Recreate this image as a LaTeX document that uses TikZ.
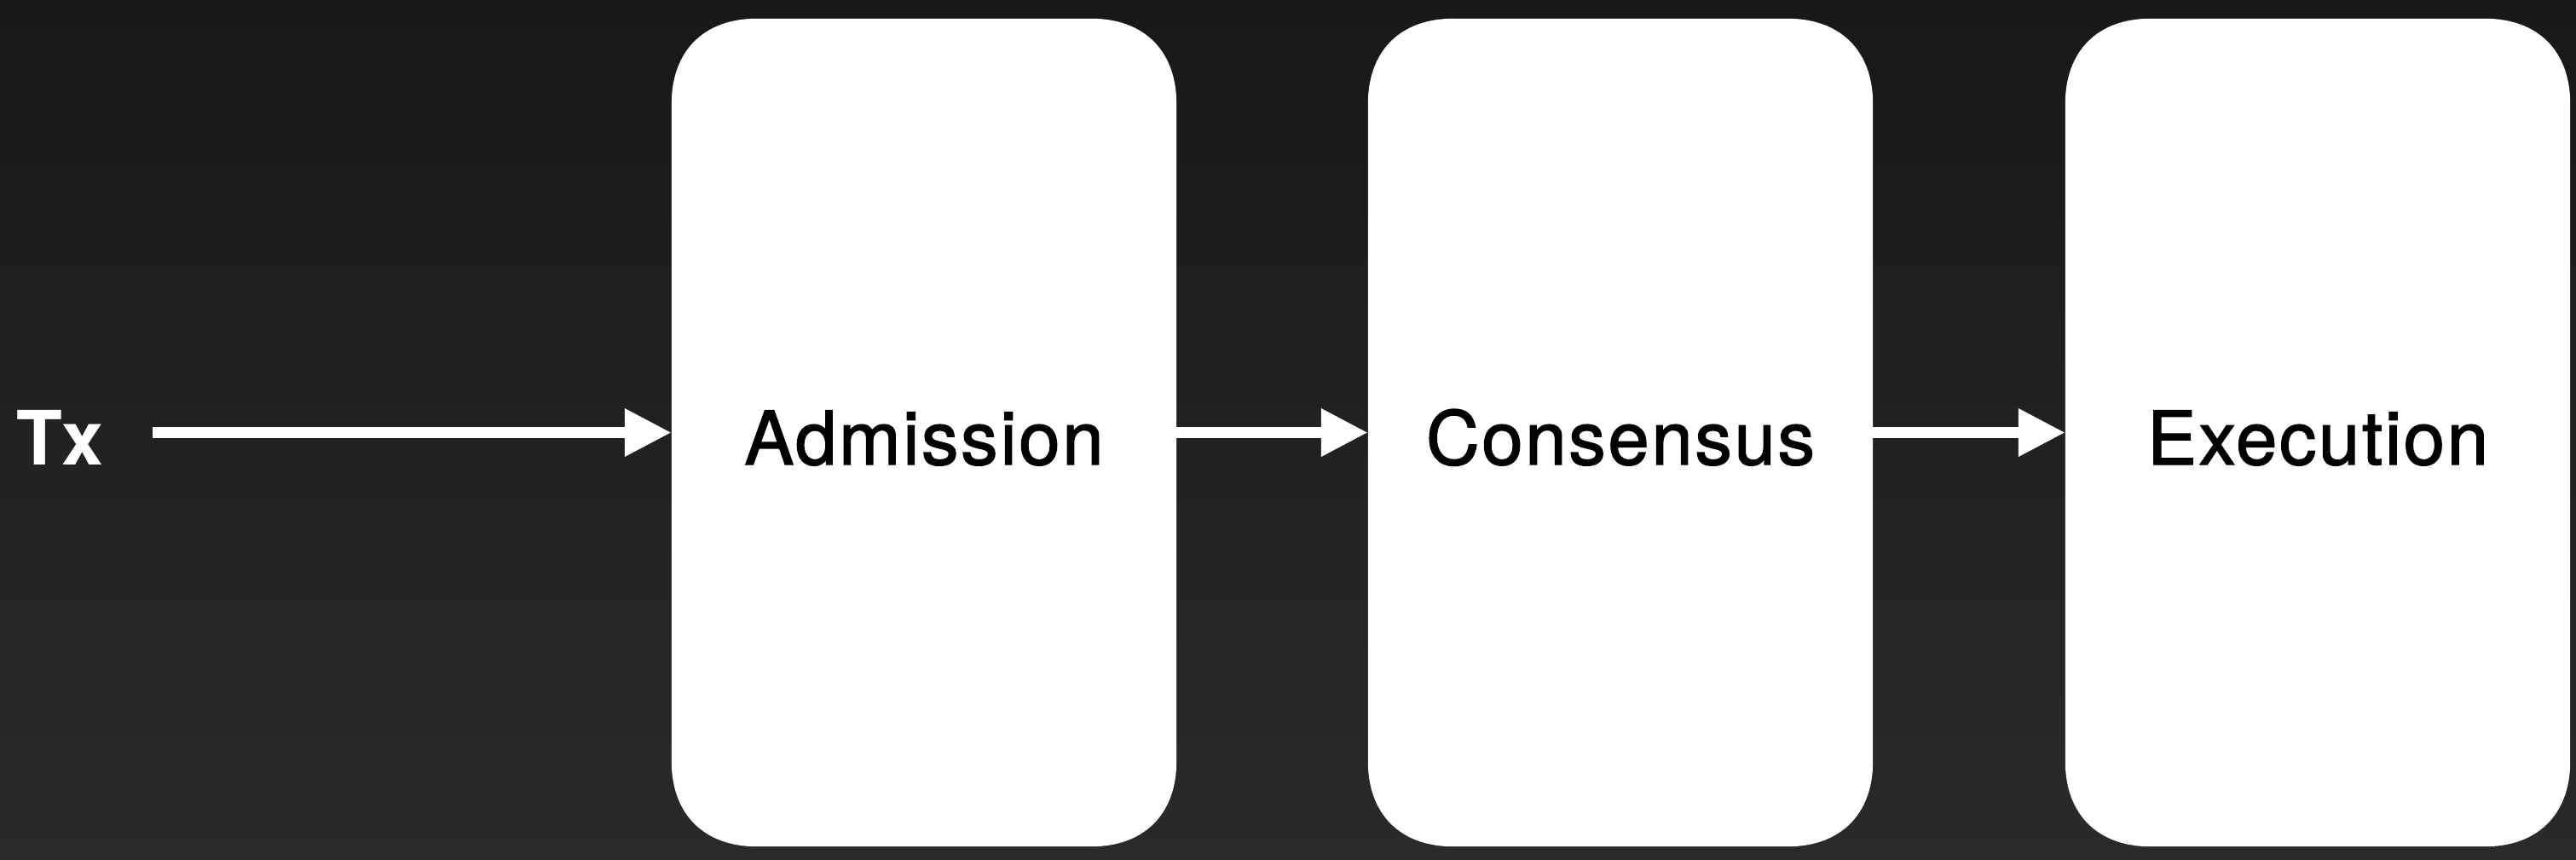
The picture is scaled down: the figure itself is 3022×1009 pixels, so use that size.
\documentclass[tikz,border=0pt]{standalone}
\usepackage{fontspec}
\setmainfont{TeX Gyre Heros}
\newfontfamily\medfont[FakeBold=1.6,LetterSpace=3]{TeX Gyre Heros}
\usetikzlibrary{arrows.meta,calc,backgrounds}
\definecolor{bgtop}{HTML}{181818}
\definecolor{bgbot}{HTML}{2A2A2A}
\newcommand\squirclebox[1]{%
  \fill[white] let \p1=(#1.north west), \p2=(#1.south east) in
    (\x1,\y1-100pt) .. controls (\x1,\y1-38pt) and (\x1+38pt,\y1) .. (\x1+100pt,\y1)
    -- (\x2-100pt,\y1) .. controls (\x2-38pt,\y1) and (\x2,\y1-38pt) .. (\x2,\y1-100pt)
    -- (\x2,\y2+100pt) .. controls (\x2,\y2+38pt) and (\x2-38pt,\y2) .. (\x2-100pt,\y2)
    -- (\x1+100pt,\y2) .. controls (\x1+38pt,\y2) and (\x1,\y2+38pt) .. (\x1,\y2+100pt)
    -- cycle;}
\begin{document}
\begin{tikzpicture}[x=1pt,y=-1pt,
  stage/.style={minimum width=592pt, minimum height=971pt,
    inner sep=0pt, text=black, font=\fontsize{87}{100}\medfont, text height=75pt, text depth=0pt},
  flow/.style={draw=white, line width=13pt, -{Triangle[length=55pt 0 0,width=53pt 0 0]}},
  inlabel/.style={text=white, inner sep=0pt, font=\fontsize{88}{100}\selectfont\bfseries}
]
\begin{scope}[on background layer]
\shade[top color=bgtop, bottom color=bgbot] (0,0) rectangle (3022,1009);
\end{scope}
\useasboundingbox (0,0) rectangle (3022,1009);

\node[stage] (adm) at (1084,507.5) {Admission};
\node[stage] (con) at (1901,507.5) {Consensus};
\node[stage] (exe) at (2719,507.5) {Execution};
\node[inlabel, anchor=base west] (tx) at (19,545) {Tx};

\begin{scope}[on background layer]
\squirclebox{adm}
\squirclebox{con}
\squirclebox{exe}
\end{scope}

\draw[flow] ([xshift=57pt]tx.east |- adm.west) -- (adm.west);
\draw[flow] (adm.east) -- (con.west);
\draw[flow] (con.east) -- (exe.west);
\end{tikzpicture}
\end{document}
